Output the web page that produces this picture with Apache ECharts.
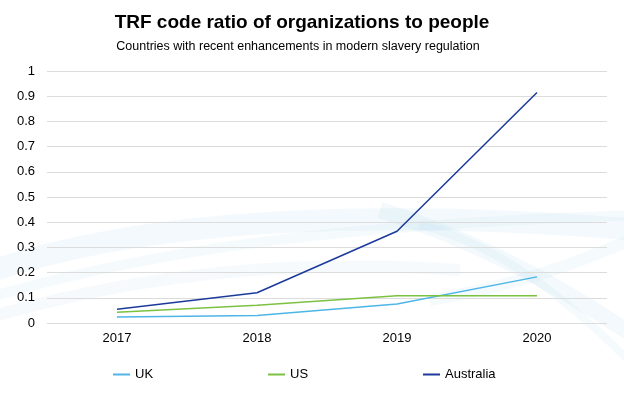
<!DOCTYPE html>
<html><head><meta charset="utf-8">
<script src="https://cdn.jsdelivr.net/npm/echarts@6/dist/echarts.min.js"></script>
<style>html,body{margin:0;padding:0;background:#fff}#c{width:624px;height:397px}</style>
</head><body><div id="c"></div>
<script>
const categories = ['2017', '2018', '2019', '2020'];
const ukValues = [0.024, 0.030, 0.075, 0.183];
const usValues = [0.043, 0.070, 0.108, 0.108];
const australiaValues = [0.055, 0.120, 0.364, 0.915];
const seriesNames = ['UK', 'US', 'Australia'];
const colors = ['#4db6e6', '#7cc242', '#1c3a9c'];

const chart = echarts.init(document.getElementById('c'));
const font = '"Liberation Sans", Arial, sans-serif';
function legend(name, left) {
  return { data: [name], left: left, top: 368, padding: 0, itemWidth: 17, itemHeight: 2, itemGap: 0,
    icon: 'rect', textStyle: { fontFamily: font, fontSize: 13, color: '#000' } };
}
function wave(x1, y1, c1x, c1y, c2x, c2y, x2, y2, w, op) {
  return { type: 'bezierCurve', z: -10, silent: true,
    shape: { x1: x1, y1: y1, cpx1: c1x, cpy1: c1y, cpx2: c2x, cpy2: c2y, x2: x2, y2: y2 },
    style: { stroke: 'rgba(190,222,240,' + op + ')', lineWidth: w, fill: null } };
}
chart.setOption({
  backgroundColor: '#fff',
  animation: false,
  graphic: [
    wave(-20, 275, 120, 225, 330, 205, 640, 230, 22, 0.18),
    wave(-20, 300, 150, 250, 330, 225, 640, 215, 10, 0.16),
    wave(380, 210, 470, 238, 560, 285, 640, 340, 16, 0.18),
    wave(-20, 320, 150, 270, 300, 260, 460, 270, 12, 0.14),
    wave(430, 300, 520, 285, 580, 262, 640, 236, 12, 0.16),
    wave(420, 225, 500, 245, 570, 300, 640, 372, 8, 0.15)
  ],
  title: [
    { text: 'TRF code ratio of organizations to people', left: 297, textAlign: 'center', top: 8,
      textStyle: { fontFamily: font, fontSize: 19, fontWeight: 'bold', color: '#000' } },
    { text: 'Countries with recent enhancements in modern slavery regulation', left: 293, textAlign: 'center', top: 35,
      textStyle: { fontFamily: font, fontSize: 12.5, fontWeight: 'normal', color: '#000' } }
  ],
  legend: [legend('UK', 113), legend('US', 268), legend('Australia', 423)],
  grid: { left: 47, right: 17, top: 71, bottom: 74, containLabel: false },
  xAxis: {
    type: 'category', data: categories, boundaryGap: true,
    axisLine: { show: false }, axisTick: { show: false },
    axisLabel: { fontFamily: font, fontSize: 13, color: '#000', margin: 9 }
  },
  yAxis: {
    type: 'value', min: 0, max: 1, interval: 0.1,
    axisLine: { show: false }, axisTick: { show: false },
    axisLabel: { fontFamily: font, fontSize: 13, color: '#000', margin: 12,
      formatter: v => String(Math.round(v * 10) / 10) },
    splitLine: { lineStyle: { color: '#dcdcdc', width: 1 } }
  },
  series: [
    { name: seriesNames[0], type: 'line', data: ukValues, color: colors[0], showSymbol: false, symbol: 'none', lineStyle: { width: 1.5 } },
    { name: seriesNames[1], type: 'line', data: usValues, color: colors[1], showSymbol: false, symbol: 'none', lineStyle: { width: 1.5 } },
    { name: seriesNames[2], type: 'line', data: australiaValues, color: colors[2], showSymbol: false, symbol: 'none', lineStyle: { width: 1.5 } }
  ]
});
</script></body></html>
